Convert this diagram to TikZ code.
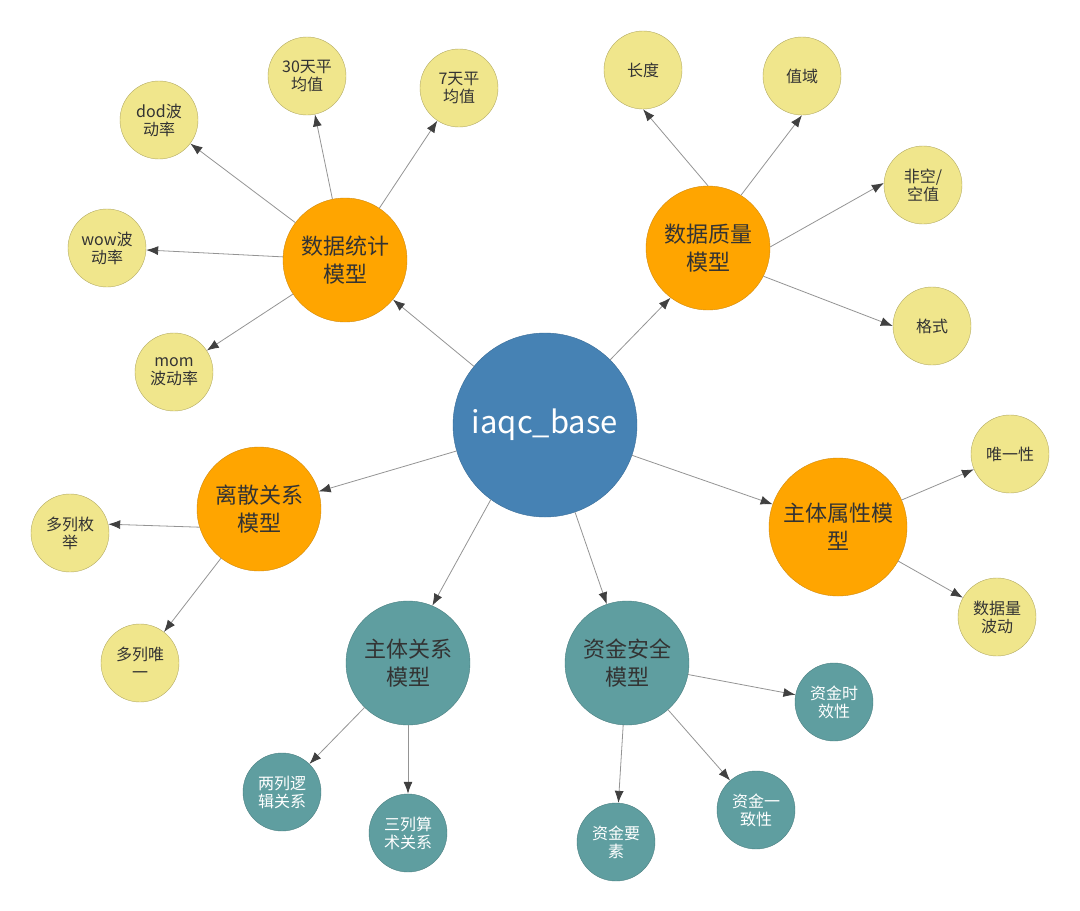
\documentclass[tikz,border=0pt]{standalone}
\usepackage{fontspec}
\setmainfont{Noto Sans CJK SC}
\usetikzlibrary{arrows.meta}

\definecolor{corefill}{HTML}{4682B4}
\definecolor{coredraw}{HTML}{3A6D98}
\definecolor{hubfill}{HTML}{FFA500}
\definecolor{hubdraw}{HTML}{D08A10}
\definecolor{leaffill}{HTML}{F0E68C}
\definecolor{leafdraw}{HTML}{B3AA62}
\definecolor{tealfill}{HTML}{5F9EA0}
\definecolor{tealdraw}{HTML}{4A7F81}
\definecolor{txt}{HTML}{333333}

\tikzset{
  corenode/.style={circle, draw=coredraw, fill=corefill, text=white, minimum size=184pt, inner sep=0pt, font=\fontsize{31}{36}\selectfont},
  hubnode/.style={circle, draw=hubdraw, fill=hubfill, text=txt, minimum size=124pt, inner sep=0pt, align=center, font=\fontsize{22}{28}\selectfont},
  tealhub/.style={hubnode, draw=tealdraw, fill=tealfill},
  leafnode/.style={circle, draw=leafdraw, fill=leaffill, text=txt, minimum size=78pt, inner sep=0pt, align=center, font=\fontsize{16}{18}\selectfont},
  tealleaf/.style={leafnode, draw=tealdraw, fill=tealfill, text=white},
  edge/.style={draw=black!42, line width=0.8pt, -{Latex[length=12pt,width=9pt,color=black!75]}}
}

\begin{document}
\begin{tikzpicture}[x=1pt,y=1pt]
  \useasboundingbox (0,0) rectangle (1080,-911); % keep the page size
  \node[corenode] (core) at (545,-425) {iaqc\_base}; % draw centre node
  % models round the centre
  \node[hubnode] (stat) at (345,-260) {数据统计\\模型};
  \node[hubnode] (qual) at (708,-248) {数据质量\\模型};
  \node[hubnode] (disc) at (259,-509) {离散关系\\模型};
  \node[hubnode, minimum size=138pt] (attr) at (838,-527) {主体属性模\\型};
  \node[tealhub] (rel) at (408,-663) {主体关系\\模型};
  \node[tealhub] (fund) at (627,-663) {资金安全\\模型};
  % checks of each model
  \node[leafnode] (dod) at (159,-120) {dod波\\动率};
  \node[leafnode] (avg30) at (307,-76) {30天平\\均值};
  \node[leafnode] (avg7) at (459,-88) {7天平\\均值};
  \node[leafnode] (wow) at (107,-248) {wow波\\动率};
  \node[leafnode] (mom) at (174,-372) {mom\\波动率};
  \node[leafnode] (len) at (643,-70) {长度};
  \node[leafnode] (range) at (802,-76) {值域};
  \node[leafnode] (null) at (923,-185) {非空/\\空值};
  \node[leafnode] (fmt) at (932,-326) {格式};
  \node[leafnode] (uniq) at (1010,-454) {唯一性};
  \node[leafnode] (vol) at (997,-617) {数据量\\波动};
  \node[leafnode] (enum) at (70,-533) {多列枚\\举};
  \node[leafnode] (multi) at (140,-663) {多列唯\\一};
  \node[tealleaf] (two) at (282,-792) {两列逻\\辑关系};
  \node[tealleaf] (three) at (408,-833) {三列算\\术关系};
  \node[tealleaf] (elem) at (616,-842) {资金要\\素};
  \node[tealleaf] (same) at (756,-810) {资金一\\致性};
  \node[tealleaf] (time) at (834,-702) {资金时\\效性};
  % arrows from the centre
  \foreach \m in {stat,disc,attr,fund}
    \draw[edge] (core) -- (\m);
  \draw[edge] (core.45) -- (qual.233); % to quality model
  \draw[edge] (core.234) -- (rel.67); % to relation model
  % arrows to the checks
  \foreach \m/\c in {stat/dod,stat/avg30,stat/avg7,stat/wow,stat/mom,
                     attr/uniq,attr/vol,disc/multi,
                     rel/two,rel/three,fund/elem,fund/same,fund/time}
    \draw[edge] (\m) -- (\c);
  \draw[edge] (qual.north) -- (len.south);
  \draw[edge] (qual.58) -- (range.south);
  \draw[edge] (qual.1) -- (null.177);
  \draw[edge] (qual.333) -- (fmt.west);
  \draw[edge] (disc.197) -- (enum.13);
\end{tikzpicture}
\end{document}
